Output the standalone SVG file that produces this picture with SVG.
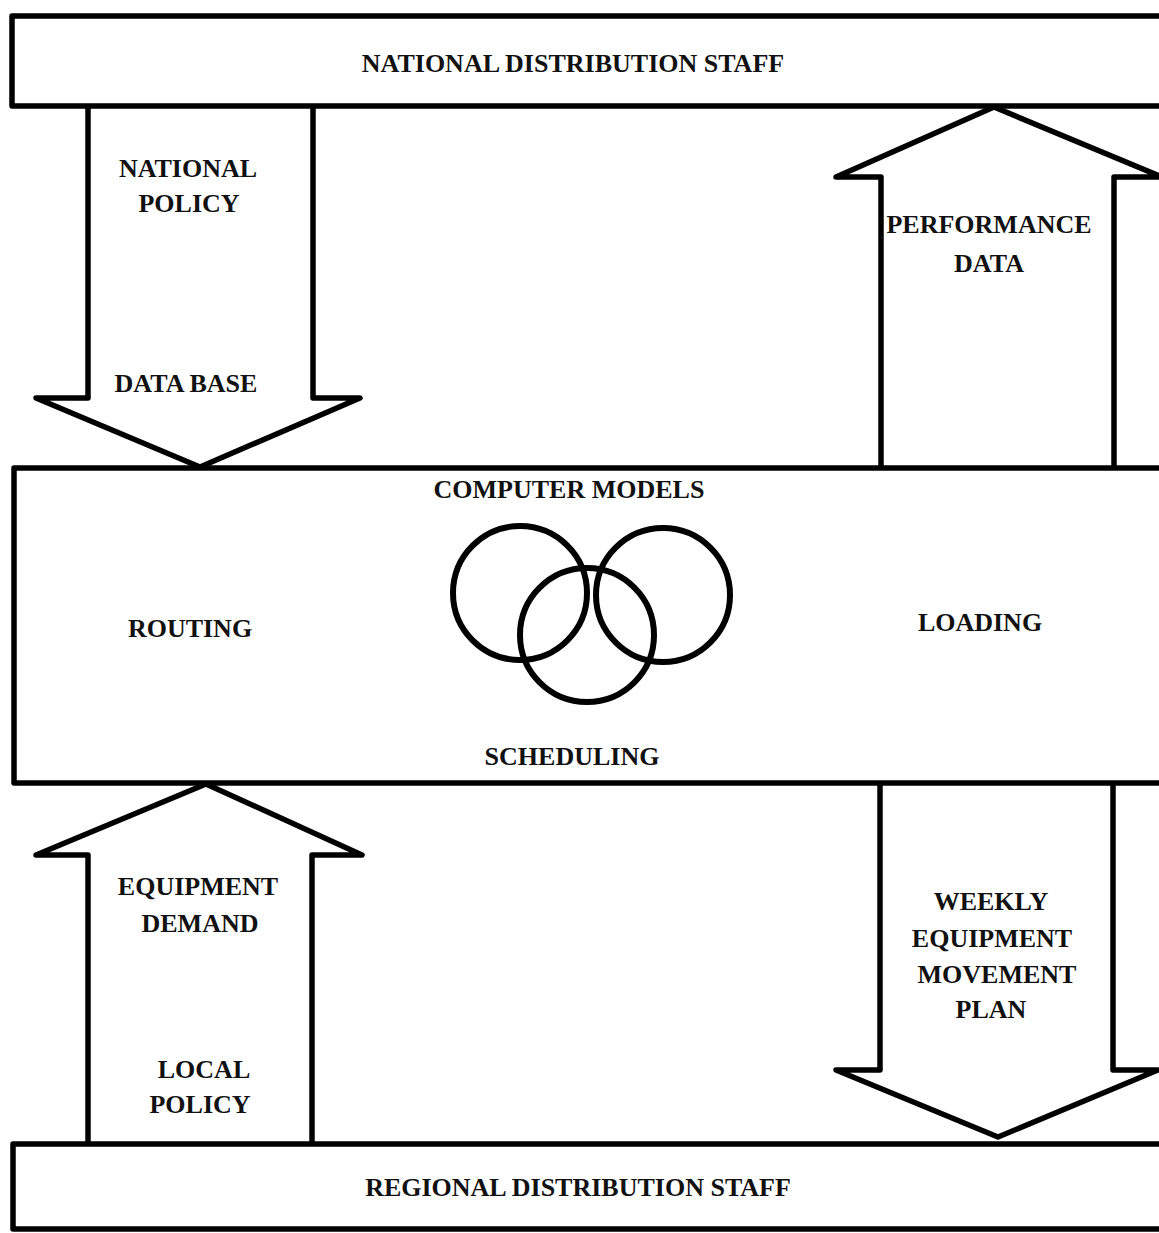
<svg xmlns="http://www.w3.org/2000/svg" width="1159" height="1233" viewBox="0 0 1159 1233">
  <style>
    .frame { fill: none; stroke: #000; stroke-width: 5.5; stroke-linejoin: round; stroke-linecap: round; }
    .ring { fill: none; stroke: #000; stroke-width: 6; }
    .lbl { font-family: "Liberation Serif", "Times New Roman", serif; font-size: 26px; font-weight: bold; fill: #111; text-anchor: middle; }
  </style>
  <rect x="0" y="0" width="1159" height="1233" fill="#fff"/>

  <!-- top band -->
  <g id="national-staff">
    <path class="frame" d="M1175 16 H12 V106 H1175"/>
    <text class="lbl" x="573" y="72">NATIONAL DISTRIBUTION STAFF</text>
  </g>

  <!-- centre band with the model rings -->
  <g id="computer-models">
    <path class="frame" d="M1175 468 H14 V783 H1175"/>
    <text class="lbl" x="569" y="498">COMPUTER MODELS</text>
    <circle class="ring" cx="520" cy="593" r="67"/>
    <circle class="ring" cx="663" cy="595" r="67"/>
    <circle class="ring" cx="587" cy="635" r="67"/>
    <text class="lbl" x="190" y="637">ROUTING</text>
    <text class="lbl" x="980" y="631">LOADING</text>
    <text class="lbl" x="572" y="765">SCHEDULING</text>
  </g>

  <!-- bottom band -->
  <g id="regional-staff">
    <path class="frame" d="M1175 1144 H13 V1229 H1175"/>
    <text class="lbl" x="578" y="1196">REGIONAL DISTRIBUTION STAFF</text>
  </g>

  <!-- broad block arrows between the bands -->
  <g id="connectors">
    <g id="arrow-national-policy">
      <path class="frame" d="M88 107 V398 H36 L200 467 L360 398 H313 V107"/>
      <text class="lbl" x="188" y="177">NATIONAL</text>
      <text class="lbl" x="189" y="212">POLICY</text>
      <text class="lbl" x="186" y="392">DATA BASE</text>
    </g>
    <g id="arrow-performance">
      <path class="frame" d="M881 467 V177 H836 L994 107 L1162 177 H1114 V467"/>
      <text class="lbl" x="989" y="233">PERFORMANCE</text>
      <text class="lbl" x="989" y="272">DATA</text>
    </g>
    <g id="arrow-equipment-demand">
      <path class="frame" d="M88 1143 V855 H36 L206 784 L362 855 H312 V1143"/>
      <text class="lbl" x="198" y="895">EQUIPMENT</text>
      <text class="lbl" x="200" y="932">DEMAND</text>
      <text class="lbl" x="204" y="1078">LOCAL</text>
      <text class="lbl" x="200" y="1113">POLICY</text>
    </g>
    <g id="arrow-movement-plan">
      <path class="frame" d="M880 784 V1070 H836 L998 1137 L1158 1070 H1113 V784"/>
      <text class="lbl" x="991" y="910">WEEKLY</text>
      <text class="lbl" x="992" y="947">EQUIPMENT</text>
      <text class="lbl" x="997" y="983">MOVEMENT</text>
      <text class="lbl" x="991" y="1018">PLAN</text>
    </g>
  </g>
</svg>
